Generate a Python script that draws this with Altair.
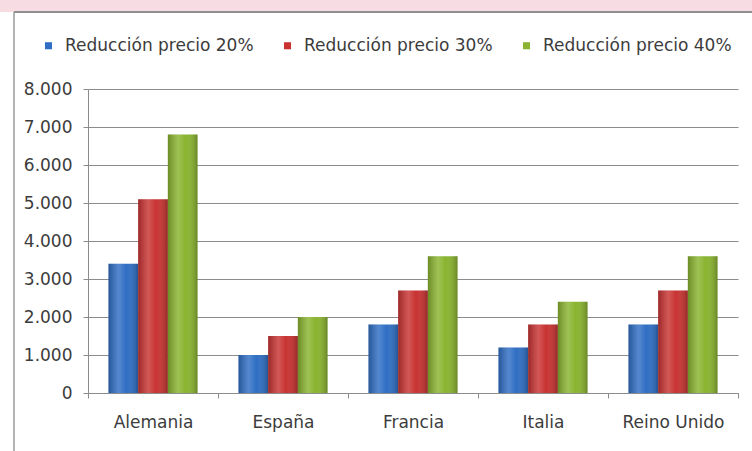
import altair as alt
import pandas as pd

paises = ["Alemania", "España", "Francia", "Italia", "Reino Unido"]
series = ["Reducción precio 20%", "Reducción precio 30%", "Reducción precio 40%"]
v20 = [3400, 1000, 1800, 1200, 1800]
v30 = [5100, 1500, 2700, 1800, 2700]
v40 = [6800, 2000, 3600, 2400, 3600]
colores = ["#2f6ec4", "#c83332", "#8ab42f"]
y_ticks = [0, 1000, 2000, 3000, 4000, 5000, 6000, 7000, 8000]

rows = []
for s, vals in zip(series, [v20, v30, v40]):
    for p, v in zip(paises, vals):
        rows.append({"pais": p, "serie": s, "valor": v})
df = pd.DataFrame(rows)

FONT = "DejaVu Sans"
TXT = "#3c3c3c"
GRID = "#8c8c8c"

x_enc = alt.X(
    "pais:N", sort=paises, title=None,
    scale=alt.Scale(paddingInner=0, paddingOuter=0),
    axis=alt.Axis(labelAngle=0, tickBand="extent", ticks=True, tickSize=5,
                  tickColor=GRID, domainColor=GRID, labelFont=FONT,
                  labelFontSize=17, labelColor=TXT, labelPadding=16, grid=False),
)
xo_enc = alt.XOffset("serie:N", sort=series,
                     scale=alt.Scale(paddingInner=0, paddingOuter=0.69))
y_enc = alt.Y(
    "valor:Q", title=None,
    scale=alt.Scale(domain=[0, 8000], nice=False),
    axis=alt.Axis(values=y_ticks, grid=True, gridColor=GRID, gridWidth=1.2,
                  domainColor=GRID, tickColor=GRID, tickSize=5,
                  labelFont=FONT, labelFontSize=17, labelColor=TXT,
                  labelPadding=11, labelOverlap=False,
                  labelExpr="replace(format(datum.value, ','), ',', '.')"),
)

bars = alt.Chart(df).mark_bar().encode(
    x=x_enc, xOffset=xo_enc, y=y_enc,
    color=alt.Color("serie:N", sort=series,
                    scale=alt.Scale(domain=series, range=colores),
                    legend=alt.Legend(orient="none", direction="horizontal",
                                      legendX=-48, legendY=-52, title=None,
                                      symbolType="square", symbolSize=50,
                                      symbolStrokeWidth=0, labelFont=FONT,
                                      labelFontSize=17, labelColor=TXT,
                                      labelLimit=400,
                                      labelOffset=8, columnPadding=25, padding=0)),
)

shade = alt.Chart(df).mark_bar(
    color=alt.Gradient(
        gradient="linear", x1=0, x2=1, y1=0, y2=0,
        stops=[alt.GradientStop(color="rgba(0,0,0,0.22)", offset=0),
               alt.GradientStop(color="rgba(255,255,255,0.18)", offset=0.35),
               alt.GradientStop(color="rgba(255,255,255,0.0)", offset=0.6),
               alt.GradientStop(color="rgba(0,0,0,0.25)", offset=1)]),
).encode(x=x_enc, xOffset=xo_enc, y=y_enc)

deco = alt.Data(values=[{"k": 1}])
pink = alt.Chart(deco).mark_rect(fill="#f7dde3", strokeWidth=0).encode(
    x=alt.value(-88), x2=alt.value(664), y=alt.value(-89), y2=alt.value(-77))
top_line = alt.Chart(deco).mark_rule(color="#8f8f8f", strokeWidth=2).encode(
    x=alt.value(-74), x2=alt.value(664), y=alt.value(-77))
left_line = alt.Chart(deco).mark_rule(color="#9a9a9a", strokeWidth=1.5).encode(
    x=alt.value(-74), y=alt.value(-77), y2=alt.value(362))

chart = alt.layer(pink, top_line, left_line, bars, shade).properties(
    width=650, height=304,
    autosize=alt.AutoSizeParams(type="none"),
    padding={"left": 88, "top": 89, "right": 14, "bottom": 58},
    background="white",
).configure_view(stroke=None)

chart.save("out.html", embed_options={"renderer": "svg", "actions": False})
